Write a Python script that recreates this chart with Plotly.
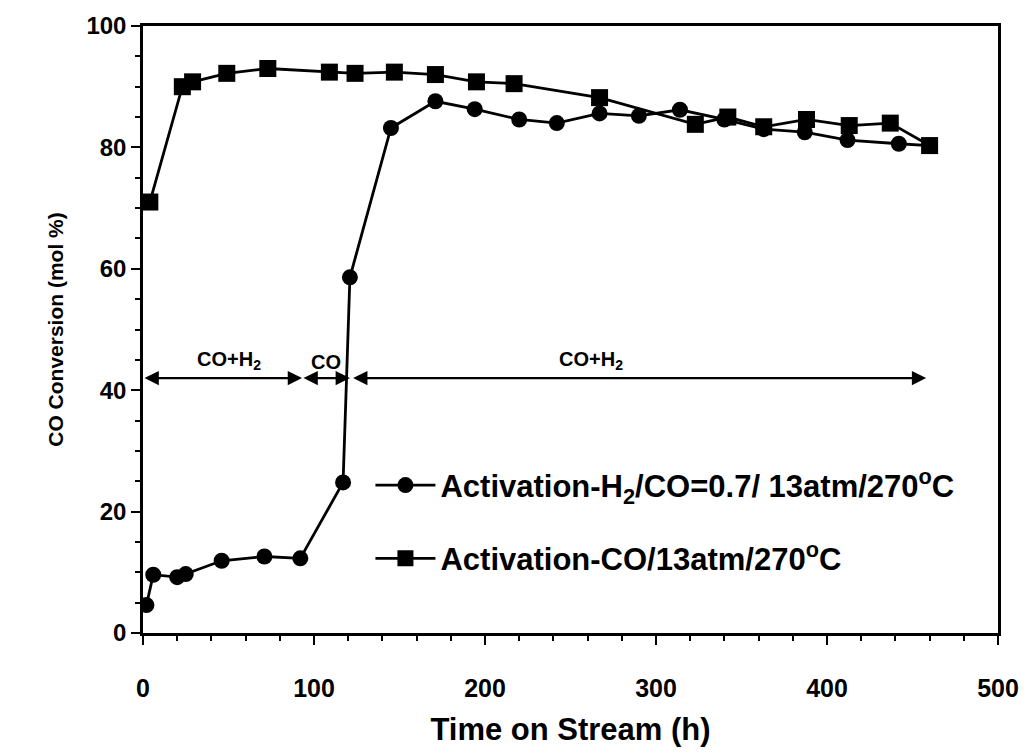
import plotly.graph_objects as go

# Activation-H2/CO=0.7/13atm/270°C (circles)
t_h2co = [2, 6, 20, 25, 46, 71, 92, 117, 121, 145, 171, 194, 220, 242, 267, 290, 314, 340, 363, 387, 412, 442, 460]
conv_h2co = [4.6, 9.6, 9.2, 9.7, 11.9, 12.6, 12.3, 24.8, 58.6, 83.2, 87.6, 86.3, 84.6, 84.0, 85.6, 85.2, 86.2, 84.6, 83.0, 82.5, 81.2, 80.6, 80.3]

# Activation-CO/13atm/270°C (squares)
t_co = [4, 23, 29, 49, 73, 109, 124, 147, 171, 195, 217, 267, 323, 342, 363, 388, 413, 437, 460]
conv_co = [71.0, 90.0, 90.8, 92.2, 93.0, 92.4, 92.2, 92.4, 92.0, 90.8, 90.5, 88.2, 83.8, 85.0, 83.4, 84.6, 83.6, 84.0, 80.3]

# regime annotations
regime_labels = ["CO+H<sub>2</sub>", "CO", "CO+H<sub>2</sub>"]
regime_start = [0, 93, 122]
regime_end = [93, 121, 458]
regime_label_x = [50, 107, 262]
arrow_y = 42.0

name_h2co = "Activation-H<sub>2</sub>/CO=0.7/ 13atm/270<sup>o</sup>C"
name_co = "Activation-CO/13atm/270<sup>o</sup>C"

FONT = "Liberation Sans, Arial"

fig = go.Figure()
fig.add_trace(go.Scatter(
    x=t_h2co, y=conv_h2co, mode="lines+markers", name=name_h2co, legendgroup="a",
    line=dict(color="black", width=2.8),
    marker=dict(symbol="circle", size=16, color="black"),
))
fig.add_trace(go.Scatter(
    x=t_co, y=conv_co, mode="lines+markers", name=name_co, legendgroup="b",
    line=dict(color="black", width=2.8),
    marker=dict(symbol="square", size=17, color="black"),
))

for s, e in zip(regime_start, regime_end):
    fig.add_annotation(
        x=e, y=arrow_y, ax=s, ay=arrow_y, xref="x", yref="y", axref="x", ayref="y",
        text="", showarrow=True, arrowhead=2, startarrowhead=2, arrowside="end+start",
        arrowsize=1.3, startarrowsize=1.3, arrowwidth=2.2, arrowcolor="black",
    )
for lx, lab in zip(regime_label_x, regime_labels):
    fig.add_annotation(
        x=lx, y=arrow_y + 0.5, xref="x", yref="y", text=lab, showarrow=False,
        yanchor="bottom", font=dict(family=FONT, size=20, color="black", weight="bold"),
    )

fig.update_layout(
    width=1031, height=754,
    margin=dict(l=143, r=28, t=26, b=121),
    paper_bgcolor="white", plot_bgcolor="white",
    font=dict(family=FONT, color="black"),
    showlegend=True,
    legend=dict(
        x=0.266, y=0.183, xanchor="left", yanchor="middle",
        bgcolor="rgba(0,0,0,0)", borderwidth=0,
        font=dict(family=FONT, size=31, color="black", weight="bold"),
        itemwidth=60, tracegroupgap=30,
    ),
    xaxis=dict(
        range=[0, 500], tickvals=[0, 100, 200, 300, 400, 500],
        ticks="outside", ticklen=9, tickwidth=2, tickcolor="black",
        minor=dict(dtick=20, ticks="outside", ticklen=5, tickwidth=1.5, tickcolor="black"),
        showline=True, linecolor="black", linewidth=2.5, mirror=True,
        showgrid=False, zeroline=False,
        ticklabelstandoff=22,
        tickfont=dict(family=FONT, size=25, color="black", weight="bold"),
        title=dict(text="<b>Time on Stream (h)</b>", font=dict(size=31), standoff=18),
    ),
    yaxis=dict(
        range=[0, 100], tickvals=[0, 20, 40, 60, 80, 100],
        ticks="outside", ticklen=9, tickwidth=2, tickcolor="black",
        minor=dict(dtick=5, ticks="outside", ticklen=5, tickwidth=1.5, tickcolor="black"),
        showline=True, linecolor="black", linewidth=2.5, mirror=True,
        showgrid=False, zeroline=False,
        tickfont=dict(family=FONT, size=24, color="black", weight="bold"),
        title=dict(text="<b>CO Conversion (mol %)</b>", font=dict(size=21), standoff=18),
    ),
)

fig.write_html("out.html")
